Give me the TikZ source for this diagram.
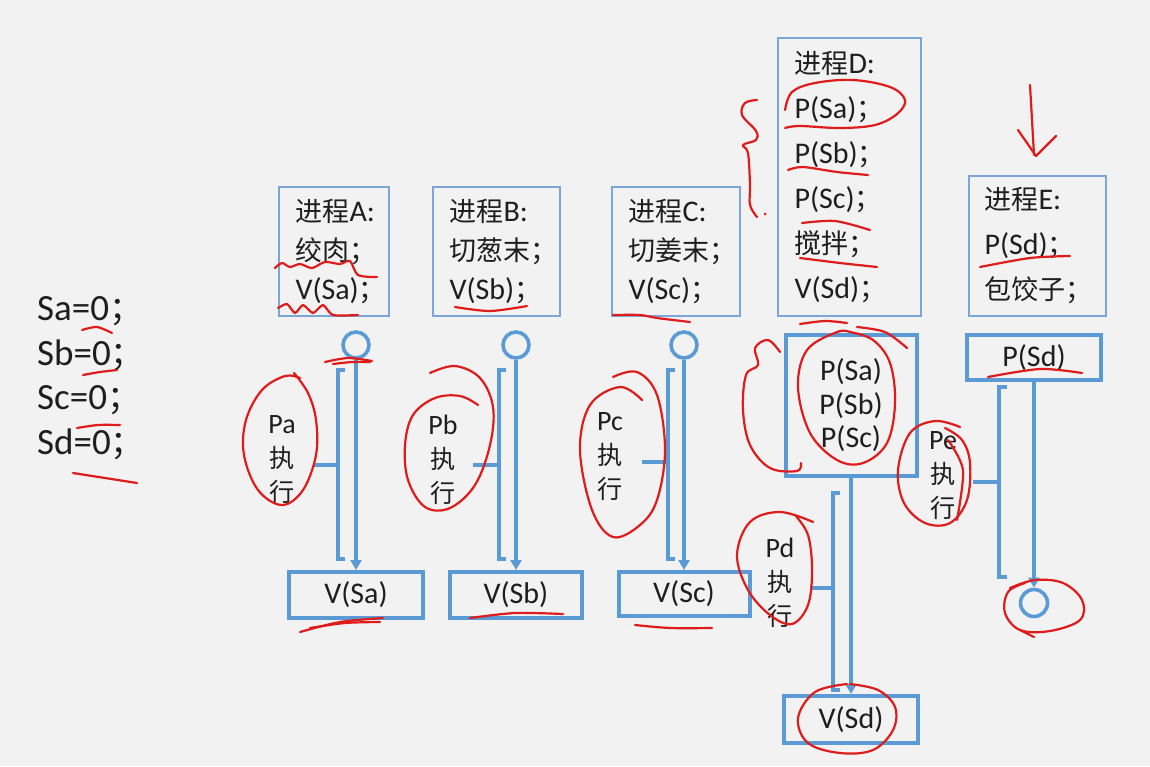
\documentclass[tikz,border=0pt]{standalone}
\usepackage{fontspec}
\setmainfont{Carlito}
\newfontfamily\cjk[Scale=0.9]{Noto Sans CJK SC}
\newcommand{\zh}[1]{{\cjk #1}}
\usetikzlibrary{arrows.meta}
\definecolor{bgc}{HTML}{F2F2F2}
\definecolor{mblue}{HTML}{5B9BD5}
\definecolor{tblue}{HTML}{7DA6D8}
\definecolor{annred}{HTML}{E01B1B}
\definecolor{txt}{HTML}{1E1E1E}
\tikzset{
  pbox/.style={draw=tblue, line width=1.4pt, inner sep=0pt, text=txt},
  tbox/.style={draw=mblue, line width=4pt, inner sep=0pt, text=txt, font=\fontsize{30}{33}\selectfont, align=center},
  ptext/.style={anchor=west, align=left, inner sep=0pt, text=txt},
  circ/.style={draw=mblue, line width=3.6pt, circle, inner sep=0pt, minimum size=26pt},
  arr/.style={draw=mblue, line width=3.4pt, -{Triangle[width=11pt,length=10pt]}},
  bl/.style={draw=mblue, line width=3.4pt},
  lbl/.style={align=center, inner sep=0pt, text=txt, font=\fontsize{28}{34}\selectfont},
  ink/.style={draw=annred, line width=2.2pt, line cap=round, line join=round},
}
\begin{document}
\begin{tikzpicture}[x=1pt,y=-1pt]
\fill[bgc] (0,0) rectangle (1150,766);
\useasboundingbox (0,0) rectangle (1150,766);

% initial values
\node[ptext, font=\fontsize{37}{44.5}\selectfont] (init) at (37,378)
  {Sa=0\zh{；}\\Sb=0\zh{；}\\Sc=0\zh{；}\\Sd=0\zh{；}};

% process boxes
\node[pbox, minimum width=110pt, minimum height=129pt] (bA) at (334,251.5) {};
\node[ptext, font=\fontsize{30}{39}\selectfont] (tA) at ([xshift=17pt]bA.west)
  {\zh{进程}A:\\\zh{绞肉；}\\V(Sa)\zh{；}};
\node[pbox, minimum width=127pt, minimum height=129pt] (bB) at (496.5,251.5) {};
\node[ptext, font=\fontsize{30}{39}\selectfont] (tB) at ([xshift=17pt]bB.west)
  {\zh{进程}B:\\\zh{切葱末；}\\V(Sb)\zh{；}};
\node[pbox, minimum width=128pt, minimum height=129pt] (bC) at (676,251.5) {};
\node[ptext, font=\fontsize{30}{39}\selectfont] (tC) at ([xshift=17pt]bC.west)
  {\zh{进程}C:\\\zh{切姜末；}\\V(Sc)\zh{；}};
\node[pbox, minimum width=143pt, minimum height=278pt] (bD) at (849.5,177) {};
\node[ptext, font=\fontsize{30}{45}\selectfont] (tD) at ([xshift=17pt]bD.west)
  {\zh{进程}D:\\P(Sa)\zh{；}\\P(Sb)\zh{；}\\P(Sc)\zh{；}\\\zh{搅拌；}\\V(Sd)\zh{；}};
\node[pbox, minimum width=137pt, minimum height=140pt] (bE) at (1037.5,246) {};
\node[ptext, font=\fontsize{30}{45}\selectfont] (tE) at ([xshift=16pt]bE.west)
  {\zh{进程}E:\\P(Sd)\zh{；}\\\zh{包饺子；}};

% column A
\node[circ] (cA) at (356,345) {};
\node[tbox, minimum width=134pt, minimum height=46pt] (vA) at (356,595) {V(Sa)};
\draw[arr] (cA) -- (vA.north);
\draw[bl] (345,370) -- (338,370) -- (338,559) -- (345,559);
\draw[bl] (338,465) -- (313,465);
\node[lbl] (lA) at (282,460) {Pa\\\zh{执}\\\zh{行}};

% column B
\node[circ] (cB) at (516,345) {};
\node[tbox, minimum width=132pt, minimum height=46pt] (vB) at (516,595) {V(Sb)};
\draw[arr] (cB) -- (vB.north);
\draw[bl] (506,370) -- (499,370) -- (499,559) -- (506,559);
\draw[bl] (499,465) -- (473,465);
\node[lbl] (lB) at (443,460) {Pb\\\zh{执}\\\zh{行}};

% column C
\node[circ] (cC) at (684,345) {};
\node[tbox, minimum width=131pt, minimum height=44pt] (vC) at (684,594) {V(Sc)};
\draw[arr] (cC) -- (vC.north);
\draw[bl] (675,370) -- (668,370) -- (668,559) -- (675,559);
\draw[bl] (668,462) -- (642,462);
\node[lbl] (lC) at (610,457) {Pc\\\zh{执}\\\zh{行}};

% column D
\node[tbox, minimum width=131pt, minimum height=141pt, font=\fontsize{30}{33.5}\selectfont] (pD) at (851,405.5) {P(Sa)\\P(Sb)\\P(Sc)};
\node[tbox, minimum width=134pt, minimum height=47pt] (vD) at (851,719.5) {V(Sd)};
\draw[arr] (pD.south) -- (vD.north);
\draw[bl] (840,493) -- (833,493) -- (833,690) -- (840,690);
\draw[bl] (833,588) -- (810,588);
\node[lbl] (lD) at (780,583) {Pd\\\zh{执}\\\zh{行}};

% column E
\node[tbox, minimum width=134pt, minimum height=45pt] (pE) at (1034,357.5) {P(Sd)};
\node[circ, minimum size=27pt] (cE) at (1034,603) {};
\draw[arr] (pE.south) -- (cE.north);
\draw[bl] (1007,387) -- (999,387) -- (999,577) -- (1007,577);
\draw[bl] (999,482) -- (973,482);
\node[lbl] (lE) at (943,476) {Pe\\\zh{执}\\\zh{行}};

% ---- red hand annotations ----
% arrow above E
\draw[ink] (1030,85) -- (1034,155);
\draw[ink] (1018,130) -- (1036,156) -- (1056,136);
% squiggle left of D
\draw[ink] plot[smooth, tension=0.6] coordinates {(757,100) (745,103) (742,115) (756,131) (756,140) (743,145) (748,153) (750,185) (750,205) (757,217)};
\fill[annred] (765,214) circle (1.5pt);
% D box marks
\draw[ink] plot[smooth, tension=0.6] coordinates {(785,110) (792,92) (815,83) (853,80) (890,87) (905,100) (897,114) (875,125) (840,128) (800,126) (785,128)};
\draw[ink] plot[smooth] coordinates {(788,170) (803,167) (837,172) (868,175)};
\draw[ink] plot[smooth] coordinates {(802,223) (835,221) (870,230)};
\draw[ink] plot[smooth] coordinates {(800,258) (840,263) (877,267)};
\draw[ink] plot[smooth] coordinates {(980,267) (1030,258) (1070,256)};
% A marks
\draw[ink] plot[smooth, tension=0.5] coordinates {(275,268) (282,263) (290,267) (300,264) (312,268) (325,262) (340,264) (350,261) (358,275) (377,277)};
\draw[ink] plot[smooth, tension=0.4] coordinates {(278,308) (287,304) (295,313) (303,305) (313,313) (323,305) (333,315) (358,315)};
\draw[ink] plot[smooth] coordinates {(455,307) (490,311) (527,306)};
\draw[ink] plot[smooth] coordinates {(613,315) (640,315) (657,318) (690,322)};
% left init marks
\draw[ink] plot[smooth] coordinates {(82,330) (97,327) (112,333)};
\draw[ink] plot[smooth] coordinates {(83,375) (100,372) (117,370)};
\draw[ink] plot[smooth] coordinates {(77,428) (98,425) (120,425)};
\draw[ink] plot[smooth] coordinates {(73,473) (105,478) (137,483)};
% circle A underline
\draw[ink] plot[smooth] coordinates {(325,362) (348,358) (372,361)};
\draw[ink] plot[smooth] coordinates {(333,364) (352,362) (370,362)};
% label ellipses
\draw[ink] plot[smooth, tension=0.6] coordinates {(300,378) (285,376) (262,390) (246,420) (244,455) (258,490) (282,505) (303,490) (316,455) (316,420) (308,393) (294,373)};
\draw[ink] plot[smooth, tension=0.6] coordinates {(430,373) (455,366) (480,378) (493,407) (490,445) (475,485) (450,508) (425,507) (408,480) (405,445) (413,415) (435,398) (460,396) (478,405)};
\draw[ink] plot[smooth, tension=0.6] coordinates {(613,377) (637,372) (657,395) (665,450) (657,500) (640,525) (613,537) (592,510) (580,450) (590,405) (620,387) (642,400)};
\draw[ink] plot[smooth, tension=0.6] coordinates {(813,522) (780,512) (750,522) (737,555) (748,590) (770,615) (792,624) (808,605) (812,570) (808,535) (795,515)};
\draw[ink] plot[smooth, tension=0.6] coordinates {(960,427) (935,421) (910,433) (898,470) (904,503) (925,523) (950,523) (967,500) (970,463) (962,440) (945,428)};
\draw[ink] plot[smooth] coordinates {(948,440) (963,470) (957,520)};
% D lower box marks
\draw[ink] plot[smooth, tension=0.6] coordinates {(850,332) (837,332) (807,350) (798,387) (810,433) (837,460) (863,463) (887,443) (895,403) (890,363) (873,340) (850,332)};
\draw[ink] plot[smooth] coordinates {(800,324) (825,321) (847,323)};
\draw[ink] plot[smooth] coordinates {(857,327) (885,332) (907,348)};
\draw[ink] plot[smooth, tension=0.6] coordinates {(780,352) (768,340) (755,348) (758,365) (746,375) (743,410) (750,445) (770,468) (797,471) (801,463)};
\draw[ink] plot[smooth, tension=0.6] coordinates {(847,684) (815,692) (798,718) (808,743) (840,753) (873,750) (893,730) (895,707) (878,690) (850,684)};
\draw[ink] plot[smooth, tension=0.6] coordinates {(1010,588) (1035,580) (1063,583) (1082,600) (1080,620) (1050,631) (1020,630) (1005,613) (1008,592) (1025,583)};
\draw[ink] (1020,630) -- (1034,637);
\draw[ink] plot[smooth] coordinates {(988,377) (1040,369) (1082,373)};
% bottom box underlines
\draw[ink] plot[smooth] coordinates {(300,632) (340,622) (383,618)};
\draw[ink] plot[smooth] coordinates {(310,628) (345,623) (380,622)};
\draw[ink] plot[smooth] coordinates {(470,618) (515,613) (563,614)};
\draw[ink] plot[smooth] coordinates {(635,625) (670,628) (712,628)};
\end{tikzpicture}
\end{document}
